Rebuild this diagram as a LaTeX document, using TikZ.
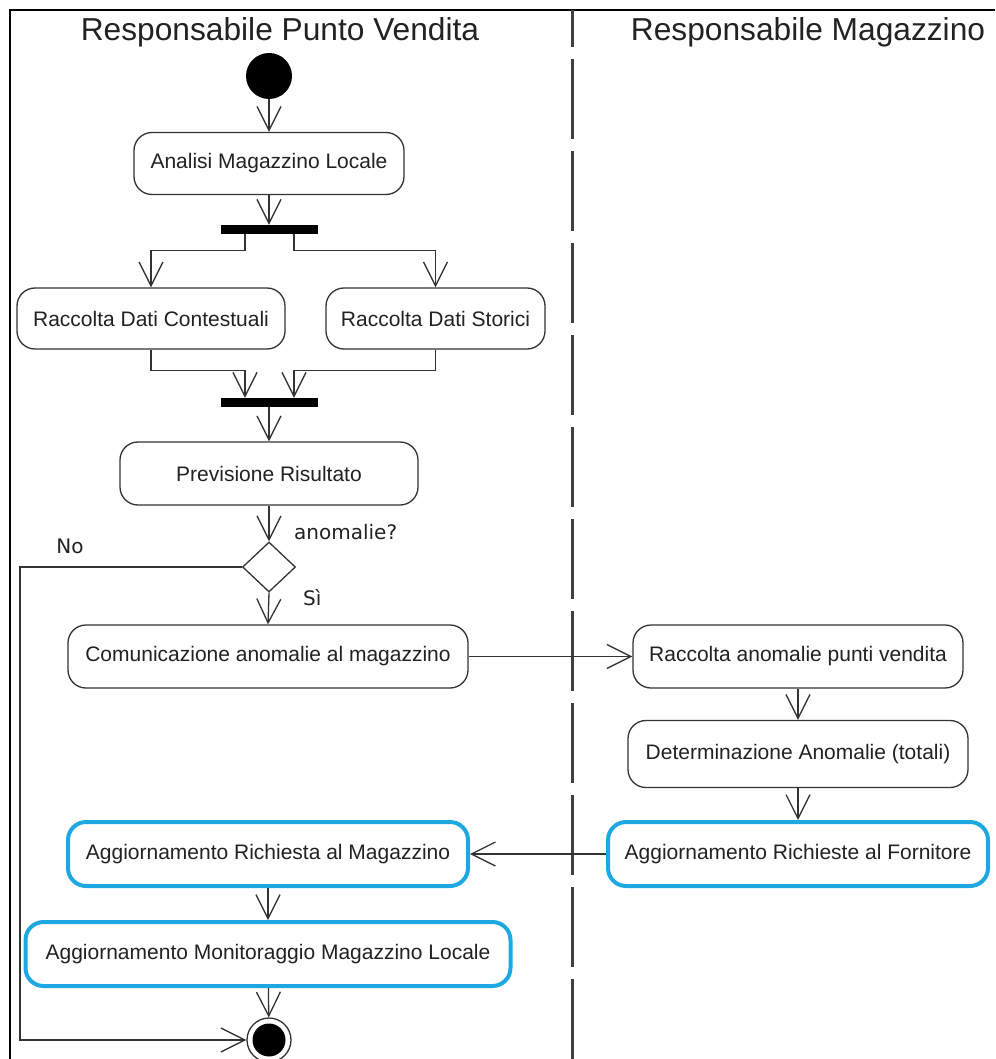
\documentclass[tikz,border=0pt]{standalone}
\usepackage{fontspec}
\setmainfont{Liberation Sans}
\newfontfamily\labelfont{DejaVu Sans}
\usetikzlibrary{arrows.meta,shapes.geometric}

\definecolor{lineclr}{HTML}{333333}
\definecolor{txtclr}{HTML}{222222}
\definecolor{hiblue}{HTML}{1EA8E2}

\tikzset{
  act/.style={draw=lineclr, line width=1.3pt, rounded corners=18pt, fill=white,
    text=txtclr, inner sep=0pt, font=\fontsize{21}{25}\selectfont},
  hiact/.style={act, draw=hiblue, line width=4pt},
  bar/.style={fill=black, draw=none, inner sep=0pt, minimum width=97pt, minimum height=9pt},
  flow/.style={draw=lineclr, line width=1.3pt,
    -{Straight Barb[length=24pt,width=24pt]}},
  plain/.style={draw=lineclr, line width=1.3pt},
  guard/.style={font=\labelfont\fontsize{20}{24}\selectfont, text=txtclr, inner sep=0pt},
  lanetitle/.style={font=\fontsize{31.7}{38}\selectfont, text=txtclr, inner sep=0pt, anchor=base},
}

\begin{document}
\begin{tikzpicture}[x=1pt,y=-1pt]
  \useasboundingbox (0,0) rectangle (995,1059);

  % swimlane frame and divider
  \draw[line width=2pt, black] (10,1059) -- (10,10) -- (995,10);
  \draw[line width=3pt, black!75, dash pattern=on 80pt off 12pt, dash phase=43pt]
    (572,10) -- (572,1059);

  % lane titles
  \node[lanetitle] (lane1) at (280,41) {Responsabile Punto Vendita};
  \node[lanetitle] (lane2) at (808,41) {Responsabile Magazzino};

  % initial node
  \node[circle, fill=black, inner sep=0pt, minimum size=46pt] (start) at (269,76) {};

  % activities of the store manager
  \node[act, minimum width=270pt, minimum height=62pt] (analisi) at (269,163.5) {Analisi Magazzino Locale};
  \node[bar] (fork) at (269,229.5) {};
  \node[act, minimum width=268pt, minimum height=61pt] (contest) at (151,318.5) {Raccolta Dati Contestuali};
  \node[act, minimum width=219pt, minimum height=61pt] (storici) at (435.5,318.5) {Raccolta Dati Storici};
  \node[bar] (join) at (269,402.5) {};
  \node[act, minimum width=298pt, minimum height=63pt] (previsione) at (269,473.5) {Previsione Risultato};
  \node[diamond, draw=lineclr, line width=1.3pt, fill=white, inner sep=0pt,
        minimum width=53pt, minimum height=50pt] (decide) at (269,567) {};
  \node[act, minimum width=400pt, minimum height=63pt] (comunica) at (268,656.5) {Comunicazione anomalie al magazzino};

  % activities of the warehouse manager
  \node[act, minimum width=330pt, minimum height=63pt] (raccolta) at (798,656.5) {Raccolta anomalie punti vendita};
  \node[act, minimum width=340pt, minimum height=67pt] (determina) at (798,754) {Determinazione Anomalie (totali)};
  \node[hiact, minimum width=380pt, minimum height=64pt] (aggforn) at (798,854) {Aggiornamento Richieste al Fornitore};

  % update activities back in the store lane
  \node[hiact, minimum width=400pt, minimum height=64pt] (aggmag) at (268,854) {Aggiornamento Richiesta al Magazzino};
  \node[hiact, minimum width=485pt, minimum height=64pt] (aggmon) at (268,954) {Aggiornamento Monitoraggio Magazzino Locale};

  % final node
  \node[circle, draw=lineclr, line width=1.3pt, fill=white, inner sep=0pt, minimum size=44pt] (finish) at (269,1040) {};
  \fill[black] (finish.center) circle (16.5pt);

  % guard labels
  \node[guard, anchor=west] (qlabel) at (294,532) {anomalie?};
  \node[guard] (nolabel) at (70,546) {No};
  \node[guard, anchor=west] (silabel) at (303,598) {Sì};

  % control flow
  \draw[flow] (start) -- (analisi);
  \draw[flow] (analisi) -- (fork);
  \draw[flow] ([xshift=-24pt]fork.south) -- ++(0,16) -| (contest.north);
  \draw[flow] ([xshift=25pt]fork.south) -- ++(0,16) -| (storici.north);
  \draw[flow] (contest.south) -- ++(0,21) -| ([xshift=-24pt]join.north);
  \draw[flow] (storici.south) -- ++(0,21) -| ([xshift=25pt]join.north);
  \draw[flow] (join) -- (previsione);
  \draw[flow] (previsione) -- (decide);
  \draw[flow] (decide.south) -- (comunica.north);
  \coordinate (nobend) at (20,567);
  \draw[flow] (decide.west) -- (nobend) |- (finish.west);
  \draw[flow] (comunica.east) -- (raccolta.west);
  \draw[flow] (raccolta) -- (determina);
  \draw[flow] (determina) -- (aggforn);
  \draw[flow] (aggforn.west) -- (aggmag.east);
  \draw[flow] (aggmag) -- (aggmon);
  \draw[flow] (aggmon) -- (finish);
\end{tikzpicture}
\end{document}
